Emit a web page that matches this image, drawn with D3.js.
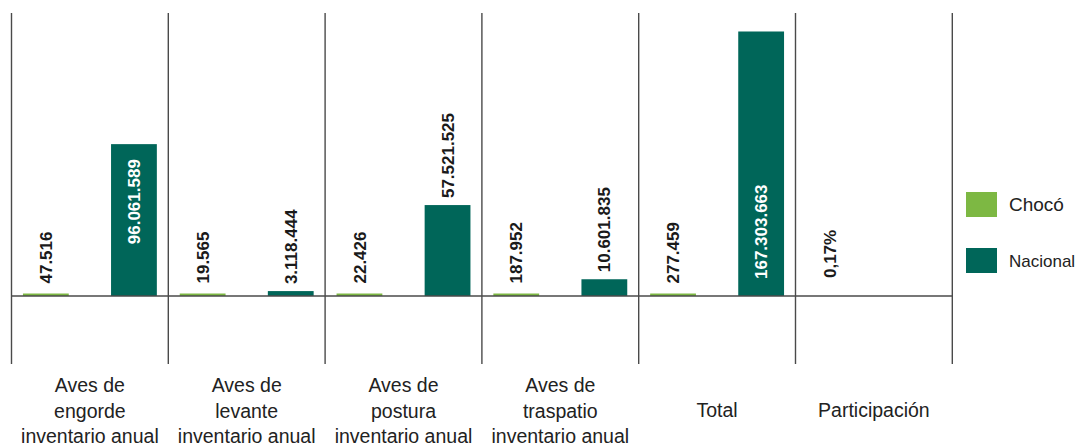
<!DOCTYPE html>
<html lang="en">
<head>
    <meta charset="UTF-8">
    <title>Aves Chocó</title>
    <script src="https://d3js.org/d3.v7.min.js"></script>
    <style>
        body{
            margin:0;
            background:#fff;
        }
        svg text{
            font-family: "Liberation Sans", Arial, sans-serif;
        }
    </style>
</head>
<body>
<svg id="chart"></svg>
<script>
    // data
    var categories = ["Aves de engorde inventario anual", "Aves de levante inventario anual",
        "Aves de postura inventario anual", "Aves de traspatio inventario anual", "Total", "Participación"];
    var categoryLines = [
        ["Aves de", "engorde", "inventario anual"],
        ["Aves de", "levante", "inventario anual"],
        ["Aves de", "postura", "inventario anual"],
        ["Aves de", "traspatio", "inventario anual"],
        ["Total"],
        ["Participación"]
    ];
    var seriesNames = ["Chocó", "Nacional"];
    var seriesColors = ["#7db843", "#006659"];
    var chocoValues = [47516, 19565, 22426, 187952, 277459];
    var nacionalValues = [96061589, 3118444, 57521525, 10601835, 167303663];
    var participacion = "0,17%";

    var fmt = function(v){
        return d3.format(",")(v).replace(/,/g, ".");
    };

    var width = 1078, height = 447;

    var svg = d3.select("#chart")
        .attr("width", width)
        .attr("height", height);

    var x = d3.scaleBand().domain(categories).range([11.5, 952.3]).padding(0);
    var xs = d3.scaleBand().domain(seriesNames).range([0, x.bandwidth()])
        .paddingInner(0.48).paddingOuter(0.13);
    var y = d3.scaleLinear().domain([-43000000, 179000000]).range([364, 13]);

    var rows = [];
    for(var i = 0;i<chocoValues.length;i++){
        rows.push({cat: categories[i], series: "Chocó", value: chocoValues[i]});
        rows.push({cat: categories[i], series: "Nacional", value: nacionalValues[i]});
    }
    var maxNac = d3.max(nacionalValues);

    // grid: vertical separators + zero line
    svg.append("g")
        .selectAll("line")
        .data(categories.concat(["end"]))
        .enter()
        .append("line")
        .attr("x1", function(d, i){ return x.range()[0] + i * x.step(); })
        .attr("x2", function(d, i){ return x.range()[0] + i * x.step(); })
        .attr("y1", y.range()[1])
        .attr("y2", y.range()[0])
        .attr("stroke", "#4a4a4a")
        .attr("stroke-width", 1.4);

    // bars (tiny values get a minimum visible height)
    var barTop = function(d){
        return Math.min(y(d.value), y(0) - 2.5);
    };
    svg.append("g")
        .selectAll("rect")
        .data(rows)
        .enter()
        .append("rect")
        .attr("x", function(d){ return x(d.cat) + xs(d.series); })
        .attr("width", xs.bandwidth())
        .attr("y", barTop)
        .attr("height", function(d){ return y(0) - barTop(d); })
        .attr("fill", function(d){ return seriesColors[seriesNames.indexOf(d.series)]; });

    svg.append("line")
        .attr("x1", x.range()[0])
        .attr("x2", x.range()[1])
        .attr("y1", y(0))
        .attr("y2", y(0))
        .attr("stroke", "#4a4a4a")
        .attr("stroke-width", 1.4);

    // value labels, rotated
    svg.append("g")
        .selectAll("text")
        .data(rows)
        .enter()
        .append("text")
        .attr("transform", function(d){
            var cx = x(d.cat) + xs(d.series) + xs.bandwidth() / 2;
            var ty;
            if(d.series === "Nacional" && d.value === maxNac){
                ty = y(0) - 17;
            }else if(d.series === "Nacional" && d.value > maxNac / 2){
                ty = y(d.value) + 15;
            }else{
                ty = barTop(d) - (d.series === "Chocó" ? 10 : 7);
            }
            return "translate(" + cx + "," + ty + ") rotate(-90)";
        })
        .attr("text-anchor", function(d){
            return (d.series === "Nacional" && d.value > maxNac / 2 && d.value !== maxNac) ? "end" : "start";
        })
        .attr("dy", "0.36em")
        .attr("font-size", "17px")
        .attr("font-weight", "bold")
        .attr("fill", function(d){
            return (d.series === "Nacional" && d.value > maxNac / 2) ? "#ffffff" : "#1a1a1a";
        })
        .text(function(d){ return fmt(d.value); });

    // participation label
    svg.append("text")
        .attr("transform", "translate(" + (x("Participación") + xs("Chocó") + xs.bandwidth() / 2) + "," + (y(0) - 18) + ") rotate(-90)")
        .attr("dy", "0.36em")
        .attr("font-size", "17px")
        .attr("font-weight", "bold")
        .attr("fill", "#1a1a1a")
        .text(participacion);

    // category labels
    var catG = svg.append("g")
        .selectAll("text")
        .data(categories)
        .enter()
        .append("text")
        .attr("x", function(d){ return x(d) + x.bandwidth() / 2; })
        .attr("y", function(d, i){ return categoryLines[i].length === 1 ? 417 : 392; })
        .attr("text-anchor", "middle")
        .attr("font-size", "19.5px")
        .attr("fill", "#222");

    catG.selectAll("tspan")
        .data(function(d, i){ return categoryLines[i]; })
        .enter()
        .append("tspan")
        .attr("x", function(){ return d3.select(this.parentNode).attr("x"); })
        .attr("dy", function(d, i){ return i === 0 ? 0 : 25.5; })
        .text(function(d){ return d; });

    // legend
    var legend = svg.append("g")
        .selectAll("g")
        .data(seriesNames)
        .enter()
        .append("g")
        .attr("transform", function(d, i){ return "translate(966," + (192 + i * 56) + ")"; });

    legend.append("rect")
        .attr("width", 31)
        .attr("height", 25)
        .attr("fill", function(d, i){ return seriesColors[i]; });

    legend.append("text")
        .attr("x", 43)
        .attr("y", 12.5)
        .attr("dy", "0.36em")
        .attr("font-size", function(d, i){ return i === 0 ? "19px" : "17px"; })
        .attr("fill", "#222")
        .text(function(d){ return d; });
</script>
</body>
</html>
